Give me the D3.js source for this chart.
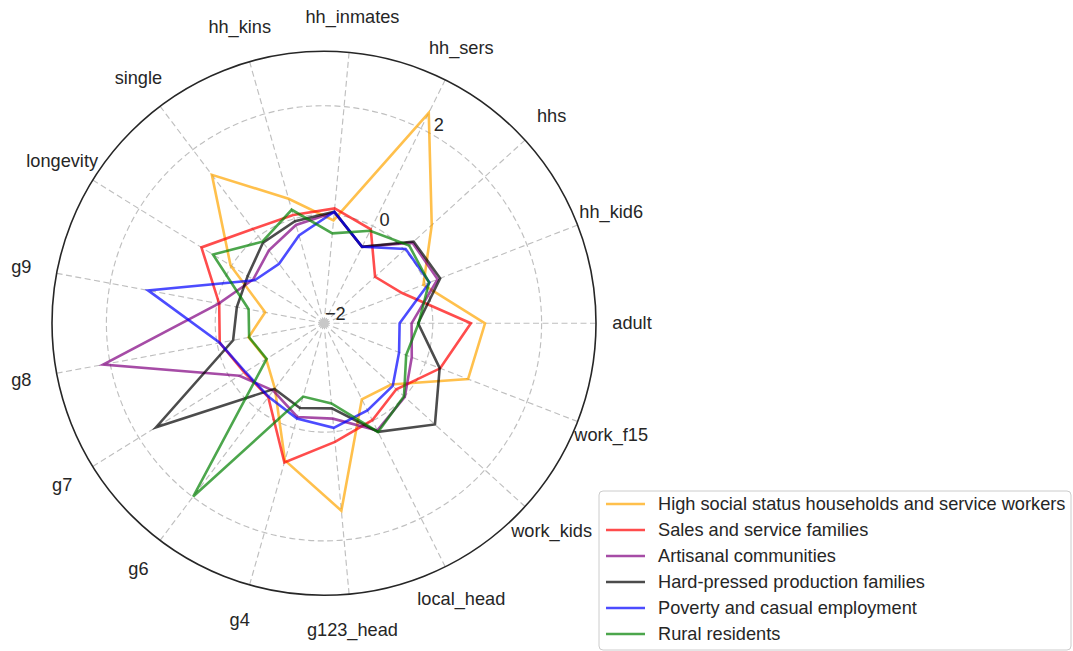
<!DOCTYPE html>
<html>
<head>
<meta charset="utf-8">
<script src="https://cdn.jsdelivr.net/npm/d3@7"></script>
<style>
  html, body { margin: 0; padding: 0; background: #fff; }
  svg { display: block; }
  text { font-family: "Liberation Sans", Arial, sans-serif; fill: #262626; }
</style>
</head>
<body>
<svg id="chart" width="1073" height="651"></svg>
<script>
const categories = ["adult","hh_kid6","hhs","hh_sers","hh_inmates","hh_kins","single","longevity","g9","g8","g7","g6","g4","g123_head","local_head","work_kids","work_f15"];

const seriesNames = [
  "High social status households and service workers",
  "Sales and service families",
  "Artisanal communities",
  "Hard-pressed production families",
  "Poverty and casual employment",
  "Rural residents"
];
const seriesColors = ["orange", "red", "purple", "black", "blue", "green"];

const highStatus = [0.96, -0.04, 0.68, 2.32, -0.10, 0.38, 1.42, 0.02, -0.90, -0.59, -0.75, -0.50, 0.62, 1.46, -0.44, -0.33, 0.84];
const salesService = [0.70, -0.46, -0.73, -0.07, 0.12, 0.07, 0.17, 0.65, -0.04, -0.05, -0.28, -0.30, 0.66, 0.19, -0.01, -0.20, 0.29];
const artisanal = [-0.39, 0.24, 0.20, -0.43, 0.05, -0.12, -0.32, -0.47, -0.03, 2.13, -0.17, -0.45, -0.21, -0.24, 0.20, 0.01, -0.27];
const hardPressed = [-0.27, 0.29, 0.23, -0.43, 0.06, -0.05, -0.14, -0.35, -0.37, -0.30, 1.63, -0.49, -0.38, -0.43, 0.23, 0.76, 0.28];
const poverty = [-0.61, 0.08, 0.03, -0.43, 0.06, -0.32, -0.63, -0.50, 1.29, -0.05, -0.30, -0.31, -0.18, -0.07, -0.21, -0.29, -0.52];
const rural = [-0.26, 0.07, 0.12, -0.10, -0.34, 0.17, -0.12, 0.40, -0.59, -0.60, -0.76, 1.99, -0.60, -0.52, 0.23, -0.01, -0.38];

const rTickValues = [-2, 0, 2];
const rDomain = [-2, 3];

const allSeries = [highStatus, salesService, artisanal, hardPressed, poverty, rural];

const svg = d3.select("#chart");
const cx = 324, cy = 323.3, R = 272;
const g = svg.append("g").attr("transform", `translate(${cx},${cy})`);

const r = d3.scaleLinear().domain(rDomain).range([0, R]);
const N = categories.length;
const theta = d3.scaleLinear().domain([0, N]).range([0, 2 * Math.PI]);
const toD3 = t => Math.PI / 2 - t;

const gridColor = "#bfbfbf";
const fs = 18.2;

rTickValues.filter(v => r(v) > 0).forEach(v => {
  g.append("circle").attr("r", r(v)).attr("fill", "none")
    .attr("stroke", gridColor).attr("stroke-width", 1.15).attr("stroke-dasharray", "6,3.5");
});

categories.forEach((c, i) => {
  const t = theta(i);
  g.append("line").attr("x1", 0).attr("y1", 0)
    .attr("x2", R * Math.cos(t)).attr("y2", -R * Math.sin(t))
    .attr("stroke", gridColor).attr("stroke-width", 1.15).attr("stroke-dasharray", "6,3.5");
});
g.append("circle").attr("r", 4.8).attr("fill", "#c8c8c8");

g.append("circle").attr("r", R).attr("fill", "none").attr("stroke", "#262626").attr("stroke-width", 1.6);

const rlabelAngle = 60 * Math.PI / 180;
rTickValues.forEach(v => {
  const rr = r(v);
  g.append("text")
    .attr("x", rr * Math.cos(rlabelAngle) + 1)
    .attr("y", -rr * Math.sin(rlabelAngle) - 3.5)
    .attr("font-size", fs)
    .attr("text-anchor", "start")
    .text(v < 0 ? "\u2212" + Math.abs(v) : String(v));
});

categories.forEach((c, i) => {
  const t = theta(i);
  const lr = 308;
  g.append("text")
    .attr("x", lr * Math.cos(t)).attr("y", -lr * Math.sin(t))
    .attr("font-size", fs)
    .attr("text-anchor", "middle")
    .attr("dominant-baseline", "central")
    .text(c);
});

const line = d3.lineRadial()
  .angle((d, i) => toD3(theta(i)))
  .radius(d => r(d))
  .curve(d3.curveLinearClosed);

allSeries.forEach((vals, k) => {
  g.append("path").attr("d", line(vals))
    .attr("fill", "none")
    .attr("stroke", seriesColors[k])
    .attr("stroke-opacity", 0.7)
    .attr("stroke-width", 2.6)
    .attr("stroke-linejoin", "miter");
});

const lg = svg.append("g").attr("transform", "translate(599,491)");
lg.append("rect").attr("x", 0).attr("y", 0).attr("width", 472).attr("height", 159)
  .attr("rx", 4).attr("fill", "white").attr("fill-opacity", 0.85)
  .attr("stroke", "#cccccc").attr("stroke-width", 1);
seriesNames.forEach((name, k) => {
  const y = 13 + k * 26;
  lg.append("line").attr("x1", 7).attr("x2", 46).attr("y1", y).attr("y2", y)
    .attr("stroke", seriesColors[k]).attr("stroke-opacity", 0.7).attr("stroke-width", 2.6);
  lg.append("text").attr("x", 59).attr("y", y).attr("font-size", fs)
    .attr("dominant-baseline", "central").text(name);
});
</script>
</body>
</html>
